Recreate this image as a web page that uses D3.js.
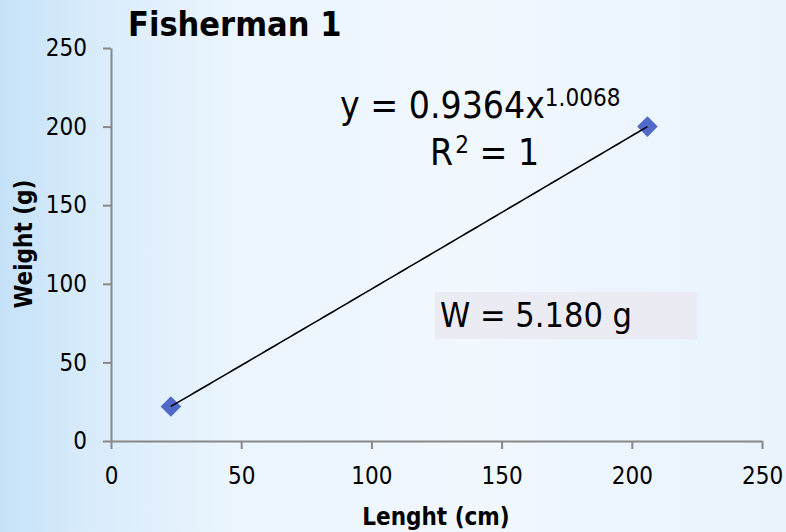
<!DOCTYPE html>
<html><head><meta charset="utf-8">
<script src="https://cdn.jsdelivr.net/npm/d3@7"></script>
<style>body{margin:0;padding:0;overflow:hidden}svg{display:block}</style>
</head><body>
<script>
const lengths = [23, 206];
const weights = [22, 200];
const xTicks = [0, 50, 100, 150, 200, 250];
const yTicks = [0, 50, 100, 150, 200, 250];
const coefA = 0.9364, coefB = 1.0068;
const titleText = "Fisherman 1";
const xTitle = "Lenght (cm)";
const yTitle = "Weight (g)";
const eqMain = "y = 0.9364x", eqSup = "1.0068";
const r2Text = "1";
const boxText = "W = 5.180 g";

const W = 786, H = 532;
const F = "'DejaVu Sans Condensed','DejaVu Sans',sans-serif";
const svg = d3.select("body").append("svg").attr("width", W).attr("height", H);
const defs = svg.append("defs");
const g1 = defs.append("linearGradient").attr("id","bg").attr("x1","0").attr("y1","0").attr("x2","1").attr("y2","0");
[[0,"#c6e2f8"],[0.12,"#d9ecfb"],[0.3,"#ebf5fd"],[0.6,"#f1f8fe"],[1,"#e8f3fc"]].forEach(s=>g1.append("stop").attr("offset",s[0]).attr("stop-color",s[1]));
svg.append("rect").attr("width",W).attr("height",H).attr("fill","url(#bg)");

const x = d3.scaleLinear().domain([0,250]).range([111,762]);
const y = d3.scaleLinear().domain([0,250]).range([441,48]);

const xAxis = svg.append("g").attr("transform","translate(0,441)")
  .call(d3.axisBottom(x).tickValues(xTicks).tickSize(8).tickPadding(18).tickSizeOuter(0));
const yAxis = svg.append("g").attr("transform","translate(111,0)")
  .call(d3.axisLeft(y).tickValues(yTicks).tickSize(8).tickPadding(16).tickSizeOuter(0));
[xAxis,yAxis].forEach(a=>{
  a.selectAll("path,line").attr("stroke","#888").attr("stroke-width",2);
  a.selectAll("text").attr("font-family",F).attr("font-size",24).attr("fill","#000");
});

// trendline (power fit)
const fitPts = d3.range(0,101).map(i=>{const xv = lengths[0] + (lengths[1]-lengths[0])*i/100; return [xv, coefA*Math.pow(xv,coefB)];});

svg.selectAll(".pt").data(lengths.map((l,i)=>[l,weights[i]])).enter().append("path")
  .attr("d", d3.symbol().type(d3.symbolDiamond2).size(270))
  .attr("transform", d=>`translate(${x(d[0])},${y(d[1])})`)
  .attr("fill","#5069c9");
svg.append("path").datum(fitPts)
  .attr("d", d3.line().x(d=>x(d[0])).y(d=>y(d[1])))
  .attr("fill","none").attr("stroke","#000").attr("stroke-width",1.6);

// title
svg.append("text").attr("x",128).attr("y",36).attr("font-family",F).attr("font-weight","bold")
  .attr("font-size",34).text(titleText);

// axis titles
svg.append("text").attr("x",436).attr("y",525).attr("text-anchor","middle").attr("font-family",F)
  .attr("font-weight","bold").attr("font-size",24).text(xTitle);
svg.append("text").attr("transform","translate(32,244) rotate(-90)").attr("text-anchor","middle")
  .attr("font-family",F).attr("font-weight","bold").attr("font-size",24).text(yTitle);

// equation
const eq = svg.append("text").attr("x",340).attr("y",118).attr("font-family",F).attr("font-size",37);
eq.append("tspan").text(eqMain);
eq.append("tspan").attr("font-size",24).attr("dy",-12).text(eqSup);
const r2 = svg.append("text").attr("x",430).attr("y",165).attr("font-family",F).attr("font-size",37);
r2.append("tspan").text("R");
r2.append("tspan").attr("font-size",24).attr("dy",-12).attr("dx",2).text("2");
r2.append("tspan").attr("dy",12).text(" = " + r2Text);

// W box
svg.append("rect").attr("x",435).attr("y",292).attr("width",262).attr("height",47).attr("fill","#ebebf3");
svg.append("text").attr("x",440).attr("y",327).attr("font-family",F).attr("font-size",34).text(boxText);
</script>
</body></html>
